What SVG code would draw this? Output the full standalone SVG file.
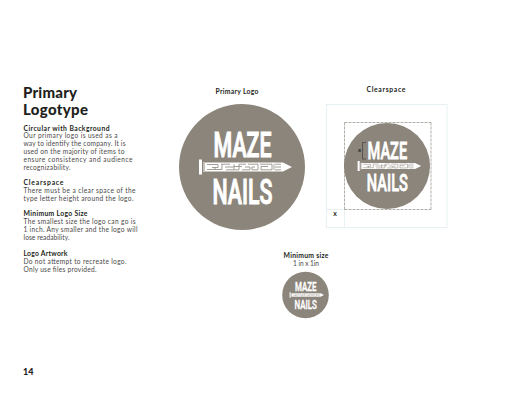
<svg xmlns="http://www.w3.org/2000/svg" xmlns:xlink="http://www.w3.org/1999/xlink" width="518" height="400" viewBox="0 0 518 400">
<style>
text{font-family:"Lato","Liberation Sans",sans-serif;fill:#2b2929}
.t{font-size:15px;font-weight:900;fill:#231f20}
.h{font-size:6.800px;font-weight:700;fill:#231f20}
.b{font-size:6.600px;fill:#4a4848}
.c{text-anchor:middle}
.lg{font-family:"Roboto","Liberation Sans",sans-serif;font-size:35px;font-weight:500;fill:#fff;stroke:#fff;stroke-width:1.100;text-anchor:middle}
.disc{fill:#8c857b}
.maze{fill:none;stroke:#8c857b;stroke-width:.8}
.guide{fill:none;stroke:#e2eef1;stroke-width:.8}
.dash{fill:none;stroke:#7d7871;stroke-width:.6}
</style>
<defs>
<g id="logo">
<circle class="disc" r="63"/>
<text class="lg" x="0.500" y="-10" textLength="58" lengthAdjust="spacingAndGlyphs">MAZE</text>
<text class="lg" x="0.500" y="37" textLength="60" lengthAdjust="spacingAndGlyphs">NAILS</text>
<path fill="#fff" d="M-43-7.500h3V7.500H-43zM-38.500-5h1V5h-1zM-37-4.500H41L50 0 41 4.500H-37z"/>
<path class="maze" d="M-35-2.500H-24V.5H-30M-35 2.500H-20V-2.500M-21-2.800H-12M-17 0H-8V2.800M-16 2.800H-3V-2.800H4M-8-2.800V-.5H0M0 2.800H8V0H3M6-2.800H16V2.800H10V0H13M18-2.800H30V2.800H19V-.5H26M33-2.800H39M33 0H39M33 2.800H39M32-2.800V2.800M-27 2.500V0"/>
</g>
</defs>
<rect width="518" height="400" fill="#fff"/>
<g id="copy">
<text class="t" x="23" y="98" textLength="54">Primary</text>
<text class="t" x="23" y="114.500" textLength="65">Logotype</text>
<text class="h" x="23.500" y="130.500" textLength="86">Circular with Background</text>
<text class="b" x="23.500" y="138" textLength="94">Our primary logo is used as a</text>
<text class="b" x="23.500" y="146" textLength="102">way to identify the company. It is</text>
<text class="b" x="23.500" y="154" textLength="101">used on the majority of items to</text>
<text class="b" x="23.500" y="162" textLength="109">ensure consistency and audience</text>
<text class="b" x="23.500" y="170" textLength="47">recognizability.</text>
<text class="h" x="23.500" y="185" textLength="40">Clearspace</text>
<text class="b" x="23.500" y="193" textLength="112">There must be a clear space of the</text>
<text class="b" x="23.500" y="201" textLength="110">type letter height around the logo.</text>
<text class="h" x="23.500" y="216" textLength="64">Minimum Logo Size</text>
<text class="b" x="23.500" y="224" textLength="112">The smallest size the logo can go is</text>
<text class="b" x="23.500" y="232" textLength="114">1 inch. Any smaller and the logo will</text>
<text class="b" x="23.500" y="240" textLength="46">lose readability.</text>
<text class="h" x="23.500" y="256" textLength="44">Logo Artwork</text>
<text class="b" x="23.500" y="264" textLength="103">Do not attempt to recreate logo.</text>
<text class="b" x="23.500" y="272" textLength="73">Only use files provided.</text>
<text class="h" x="23" y="375" style="font-size:9px;font-weight:900">14</text>
</g>
<g id="primary-logo">
<text class="h c" x="237" y="94" textLength="43">Primary Logo</text>
<use xlink:href="#logo" href="#logo" transform="translate(242 167)"/>
</g>
<g id="clearspace">
<text class="h c" x="386" y="92" textLength="39">Clearspace</text>
<rect class="guide" x="326.500" y="104.500" width="120.500" height="123"/>
<path class="guide" d="M344.500 209.500V227.500M326.500 209.500H344.500"/>
<use xlink:href="#logo" href="#logo" transform="translate(387 166) scale(.683)"/>
<path class="dash" stroke-dasharray="3 1" d="M344.500 122.500H431M431 122.500V209.500M344.500 209.500H431M344.500 122.500V209.500"/>
<path fill="none" stroke="#4a4640" stroke-width=".8" d="M366 142.500H362.500V159H366"/>
<text class="h c" x="359.500" y="152" style="font-size:6px">x</text>
<text class="h c" x="335" y="215.500">x</text>
</g>
<g id="minimum-size">
<text class="h c" x="306" y="258" textLength="45">Minimum size</text>
<text class="b c" x="306" y="265.500" textLength="26">1 in x 1in</text>
<use xlink:href="#logo" href="#logo" transform="translate(305.500 295) scale(.37)"/>
</g>
</svg>
